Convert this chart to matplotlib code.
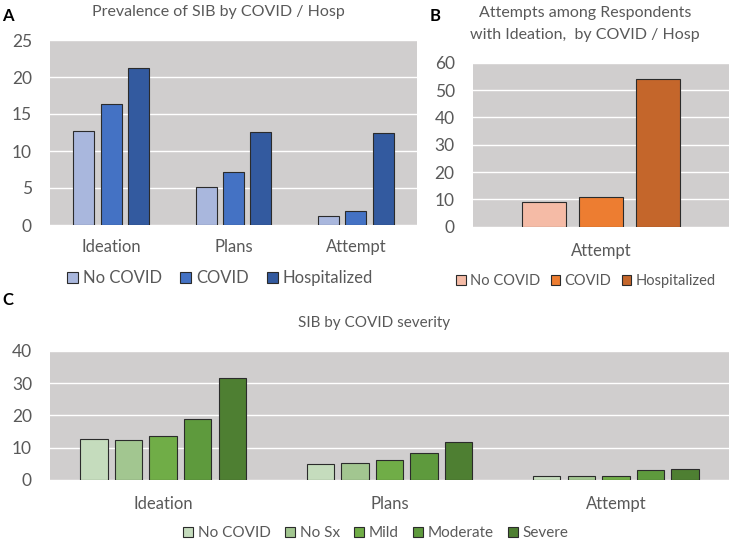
import matplotlib
matplotlib.use("Agg")
import matplotlib.pyplot as plt
import numpy as np

plt.rcParams["font.family"] = ["Lato", "DejaVu Sans"]

# data
cats_a = ["Ideation", "Plans", "Attempt"]
groups_a = ["No COVID", "COVID", "Hospitalized"]
vals_a = [[12.7, 5.1, 1.2],
          [16.3, 7.1, 1.9],
          [21.2, 12.6, 12.5]]

cats_b = ["Attempt"]
groups_b = ["No COVID", "COVID", "Hospitalized"]
vals_b = [[8.9], [11.0], [53.9]]

cats_c = ["Ideation", "Plans", "Attempt"]
groups_c = ["No COVID", "No Sx", "Mild", "Moderate", "Severe"]
vals_c = [[12.8, 5.05, 1.1],
          [12.5, 5.3, 1.1],
          [13.7, 6.3, 1.1],
          [18.9, 8.2, 3.0],
          [31.4, 11.75, 3.3]]

cols_a = ["#A9B7DD", "#4472C4", "#335A9F"]
cols_b = ["#F5BBA6", "#ED7D31", "#C4662B"]
cols_c = ["#C5DCBD", "#A2C690", "#70AD47", "#5E9A3D", "#4E7F32"]

BG = "#D0CECE"
TXT = "#595959"
W, H = 729, 542


def rect(l, t, r, b):
    return [l / W, 1 - b / H, (r - l) / W, (b - t) / H]


def panel(ax, cats, groups, vals, cols, ymax, step, pitch, width, xpad):
    x = np.arange(len(cats))
    n = len(groups)
    for i in range(n):
        off = (i - (n - 1) / 2) * pitch
        ax.bar(x + off, vals[i], width, color=cols[i], edgecolor="#2b2b2b",
               linewidth=0.8, label=groups[i], zorder=3)
    ax.set_facecolor(BG)
    ax.set_xlim(-0.5, len(cats) - 0.5)
    ax.set_ylim(0, ymax)
    ax.set_yticks(np.arange(0, ymax + 1, step))
    ax.set_xticks(x)
    ax.set_xticklabels(cats)
    ax.grid(axis="y", color="white", linewidth=1.0, zorder=1)
    for s in ax.spines.values():
        s.set_visible(False)
    ax.tick_params(axis="y", length=0, pad=13, labelsize=12.5, labelcolor=TXT)
    ax.tick_params(axis="x", length=0, pad=xpad, labelsize=12, labelcolor=TXT)


fig = plt.figure(figsize=(7.29, 5.42), dpi=100)

ax_a = fig.add_axes(rect(50, 40, 417, 225))
panel(ax_a, cats_a, groups_a, vals_a, cols_a, 25, 5, 0.224, 0.172, 10)

ax_b = fig.add_axes(rect(472.7, 62.7, 729, 226.7))
panel(ax_b, cats_b, groups_b, vals_b, cols_b, 60, 10, 0.223, 0.173, 12)

ax_c = fig.add_axes(rect(50, 350.7, 729, 480))
panel(ax_c, cats_c, groups_c, vals_c, cols_c, 40, 10, 0.153, 0.121, 11.5)

# titles
fig.text(218 / W, 1 - 16 / H, "Prevalence of SIB by COVID / Hosp",
         ha="center", va="baseline", fontsize=11.5, color=TXT)
fig.text(585 / W, 1 - 17 / H, "Attempts among Respondents",
         ha="center", va="baseline", fontsize=11.5, color=TXT)
fig.text(585 / W, 1 - 39 / H, "with Ideation,  by COVID / Hosp",
         ha="center", va="baseline", fontsize=11.5, color=TXT)
fig.text(374 / W, 1 - 327 / H, "SIB by COVID severity",
         ha="center", va="baseline", fontsize=11, color=TXT)

# panel letters
fig.text(2 / W, 1 - 21 / H, "A", fontsize=12, weight="bold", va="baseline")
fig.text(430 / W, 1 - 21 / H, "B", fontsize=12, weight="bold", va="baseline")
fig.text(2 / W, 1 - 305 / H, "C", fontsize=12, weight="bold", va="baseline")

# legends
leg_kw = dict(loc="center", frameon=False, handlelength=0.65,
              handleheight=0.65, handletextpad=0.3, borderpad=0,
              labelcolor=TXT)
h, l = ax_a.get_legend_handles_labels()
fig.legend(h, l, bbox_to_anchor=(220 / W, 1 - 278 / H), ncol=3,
           fontsize=12, columnspacing=1.1, **leg_kw)
h, l = ax_b.get_legend_handles_labels()
fig.legend(h, l, bbox_to_anchor=(586 / W, 1 - 281 / H), ncol=3,
           fontsize=10.5, columnspacing=0.7, **leg_kw)
h, l = ax_c.get_legend_handles_labels()
fig.legend(h, l, bbox_to_anchor=(376 / W, 1 - 533 / H), ncol=5,
           fontsize=11, columnspacing=0.95, **leg_kw)

fig.savefig("out.png", dpi=100)
